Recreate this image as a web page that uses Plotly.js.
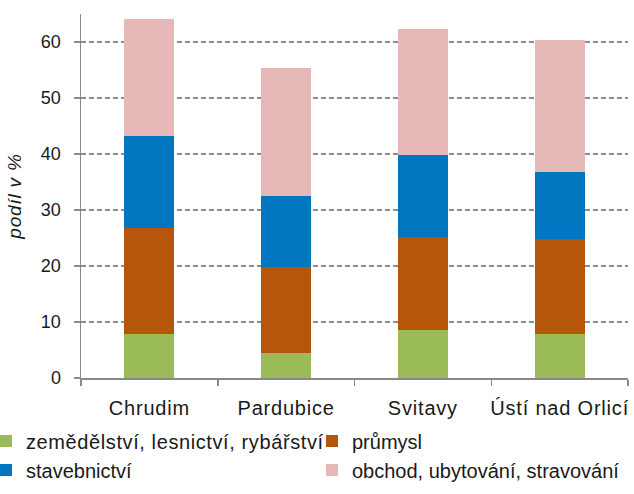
<!DOCTYPE html>
<html>
<head>
<meta charset="utf-8">
<script src="https://cdn.plot.ly/plotly-3.0.1.min.js"></script>
<style>
html,body{margin:0;padding:0;background:#fff;}
#chart{width:634px;height:494px;}
.xtick text, .ytitle { letter-spacing: 0.8px; }
.legendtext { letter-spacing: 0.6px; }
</style>
</head>
<body>
<div id="chart"></div>
<script>
const categories = ["Chrudim", "Pardubice", "Svitavy", "Ústí nad Orlicí"];
const seriesNames = ["zemědělství, lesnictví, rybářství", "průmysl", "stavebnictví", "obchod, ubytování, stravování"];
const zemedelstvi = [7.9, 4.4, 8.6, 7.9];
const prumysl = [18.9, 15.4, 16.5, 16.9];
const stavebnictvi = [16.5, 12.7, 14.8, 11.9];
const obchod = [20.8, 22.8, 22.5, 23.6];
const colors = ["#9BBB59", "#B5560A", "#0075C0", "#E6B8B7"];
const values = [zemedelstvi, prumysl, stavebnictvi, obchod];
const legendIds = ["legend", "legend2", "legend3", "legend4"];

const font = "Liberation Sans, Arial, sans-serif";
const traces = values.map((v, i) => ({
  type: "bar",
  name: seriesNames[i],
  x: categories,
  y: v,
  marker: {color: colors[i], line: {width: 0}},
  legend: legendIds[i],
  hoverinfo: "skip"
}));

// plot area: left 81px, width 547px; top 14px, height 364px
function leg(xpx, ypx) {
  return {
    orientation: "v",
    xref: "paper",
    yref: "paper",
    xanchor: "left",
    yanchor: "middle",
    x: (xpx - 81) / 547,
    y: (378 - ypx) / 364,
    font: {family: font, size: 20, color: "#1a1a1a"},
    bgcolor: "rgba(0,0,0,0)",
    borderwidth: 0
  };
}

const layout = {
  width: 634,
  height: 494,
  margin: {l: 81, r: 6, t: 14, b: 116, autoexpand: false},
  barmode: "stack",
  bargap: 0.635,
  paper_bgcolor: "#ffffff",
  plot_bgcolor: "#ffffff",
  font: {family: font, size: 18, color: "#1a1a1a"},
  showlegend: true,
  legend: leg(-14, 441),
  legend2: leg(312, 441),
  legend3: leg(-14, 470),
  legend4: leg(312, 470),
  xaxis: {
    showline: true,
    linecolor: "#898989",
    linewidth: 1.5,
    ticks: "outside",
    tickson: "boundaries",
    ticklen: 6,
    tickcolor: "#898989",
    tickwidth: 1.5,
    showgrid: false,
    ticklabelstandoff: 11,
    tickfont: {family: font, size: 20, color: "#1a1a1a"},
    automargin: false,
    fixedrange: true
  },
  yaxis: {
    range: [0, 65],
    dtick: 10,
    tick0: 0,
    showline: true,
    linecolor: "#898989",
    linewidth: 1.5,
    ticks: "outside",
    ticklen: 6,
    tickcolor: "#898989",
    tickwidth: 1.5,
    ticksuffix: "\u2002",
    showgrid: true,
    gridcolor: "#8c8c8c",
    gridwidth: 1.5,
    griddash: "5px,3px",
    zeroline: false,
    tickfont: {family: font, size: 18, color: "#1a1a1a"},
    title: {text: "<i>podíl v %</i>", font: {family: font, size: 19, color: "#1a1a1a"}, standoff: 14},
    automargin: false,
    fixedrange: true
  }
};

Plotly.newPlot("chart", traces, layout, {displayModeBar: false, staticPlot: true});
</script>
</body>
</html>
